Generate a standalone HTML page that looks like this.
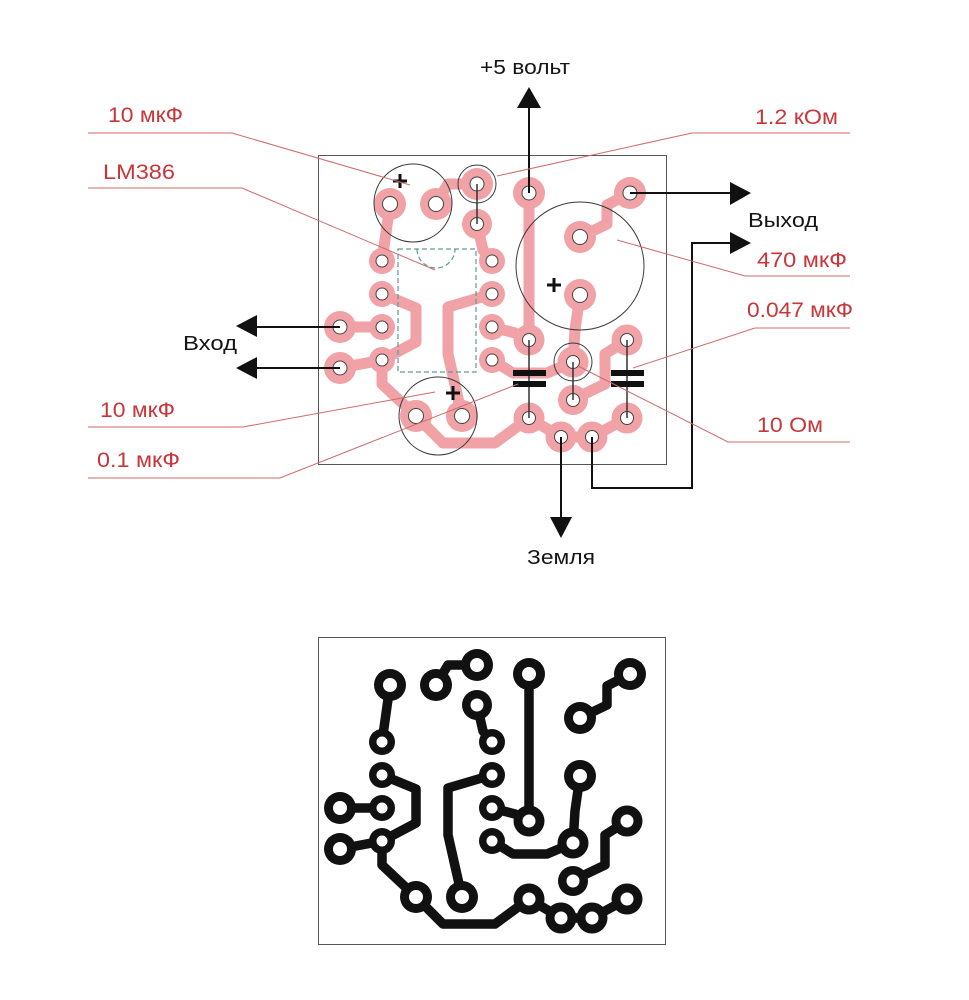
<!DOCTYPE html>
<html><head><meta charset="utf-8">
<style>
html,body{margin:0;padding:0;background:#fff;}
svg{display:block;}
text{font-family:"Liberation Sans","DejaVu Sans",sans-serif;}
</style></head>
<body>
<svg width="969" height="1000" viewBox="0 0 969 1000" xmlns="http://www.w3.org/2000/svg">
<defs>
  <g id="trk" fill="none" stroke-linejoin="round" stroke-linecap="round">
    <polyline points="390,204 382,261"/>
    <polyline points="436,204 448,184 470,184 477,184"/>
    <polyline points="477,224 483,250 492,261"/>
    <polyline points="529,193 529,340"/>
    <polyline points="630,193 607,205 607,224 580,237"/>
    <polyline points="340,327 382,327"/>
    <polyline points="340,368 382,360"/>
    <polyline points="382,294 416,308 416,342 382,360"/>
    <polyline points="382,360 382,384 416,416"/>
    <polyline points="416,416 443,443 495,443 529,418"/>
    <polyline points="492,294 448,307 448,354 462,416"/>
    <polyline points="492,327 515,333 529,340"/>
    <polyline points="492,360 513,373 547,373 573,362"/>
    <polyline points="580,295 575,330 573,362"/>
    <polyline points="627,340 605,354 605,384 580,396 573,400"/>
    <polyline points="529,418 561,437 592,437 627,418"/>
  </g>
  <g id="bigpads">
    <circle cx="390" cy="204" r="16"/>
    <circle cx="436" cy="204" r="16"/>
    <circle cx="477" cy="184" r="16"/>
    <circle cx="477" cy="224" r="15"/>
    <circle cx="529" cy="193" r="16"/>
    <circle cx="630" cy="193" r="16"/>
    <circle cx="580" cy="237" r="16"/>
    <circle cx="580" cy="295" r="16"/>
    <circle cx="340" cy="327" r="16"/>
    <circle cx="340" cy="368" r="16"/>
    <circle cx="416" cy="416" r="16"/>
    <circle cx="462" cy="416" r="16"/>
    <circle cx="529" cy="340" r="15.5"/>
    <circle cx="529" cy="418" r="15.5"/>
    <circle cx="573" cy="362" r="15.5"/>
    <circle cx="573" cy="400" r="15"/>
    <circle cx="627" cy="340" r="15.5"/>
    <circle cx="627" cy="418" r="15.5"/>
    <circle cx="561" cy="437" r="15.5"/>
    <circle cx="592" cy="437" r="15.5"/>
  </g>
  <g id="icpads">
    <circle cx="382" cy="261" r="13"/>
    <circle cx="382" cy="294" r="13"/>
    <circle cx="382" cy="327" r="13"/>
    <circle cx="382" cy="360" r="13"/>
    <circle cx="492" cy="261" r="13"/>
    <circle cx="492" cy="294" r="13"/>
    <circle cx="492" cy="327" r="13"/>
    <circle cx="492" cy="360" r="13"/>
  </g>
</defs>

<!-- ================= TOP DIAGRAM ================= -->
<rect x="318.5" y="155.5" width="348" height="309" fill="none" stroke="#555" stroke-width="1"/>

<!-- pink copper -->
<use href="#trk" stroke="#F0A2A6" stroke-width="11"/>
<use href="#bigpads" fill="#F0A2A6"/>
<use href="#icpads" fill="#F0A2A6"/>

<!-- holes -->
<g fill="#fff" stroke="#444" stroke-width="1">
  <circle cx="390" cy="204" r="7.5"/>
  <circle cx="436" cy="204" r="7.5"/>
  <circle cx="477" cy="184" r="7"/>
  <circle cx="477" cy="224" r="6.5"/>
  <circle cx="529" cy="193" r="7"/>
  <circle cx="630" cy="193" r="7"/>
  <circle cx="580" cy="237" r="7.5"/>
  <circle cx="580" cy="295" r="7.5"/>
  <circle cx="340" cy="327" r="7"/>
  <circle cx="340" cy="368" r="7"/>
  <circle cx="416" cy="416" r="7.5"/>
  <circle cx="462" cy="416" r="7.5"/>
  <circle cx="529" cy="340" r="6.5"/>
  <circle cx="529" cy="418" r="6.5"/>
  <circle cx="573" cy="362" r="6.5"/>
  <circle cx="573" cy="400" r="6.5"/>
  <circle cx="627" cy="340" r="6.5"/>
  <circle cx="627" cy="418" r="6.5"/>
  <circle cx="561" cy="437" r="6.5"/>
  <circle cx="592" cy="437" r="6.5"/>
  <circle cx="382" cy="261" r="6"/>
  <circle cx="382" cy="294" r="6"/>
  <circle cx="382" cy="327" r="6"/>
  <circle cx="382" cy="360" r="6"/>
  <circle cx="492" cy="261" r="6"/>
  <circle cx="492" cy="294" r="6"/>
  <circle cx="492" cy="327" r="6"/>
  <circle cx="492" cy="360" r="6"/>
</g>

<!-- IC outline -->
<g fill="none" stroke="#5E9A9A" stroke-width="1.2" stroke-dasharray="5,3">
  <rect x="398" y="249" width="78" height="123"/>
  <path d="M417,249 A19,19 0 0 0 455,249"/>
</g>

<!-- component outlines -->
<g fill="none" stroke="#3a3a3a" stroke-width="1">
  <circle cx="413" cy="203" r="39"/>
  <circle cx="477" cy="184" r="19"/>
  <circle cx="580" cy="266" r="64"/>
  <circle cx="438" cy="416" r="39"/>
  <circle cx="573" cy="362" r="19"/>
</g>
<g stroke="#333" stroke-width="1.5">
  <line x1="477" y1="184" x2="477" y2="224"/>
  <line x1="529" y1="340" x2="529" y2="418"/>
  <line x1="573" y1="362" x2="573" y2="400"/>
  <line x1="627" y1="340" x2="627" y2="418"/>
</g>
<!-- cap plates -->
<g fill="#111">
  <rect x="513" y="370" width="33" height="6"/>
  <rect x="513" y="381" width="33" height="6"/>
  <rect x="611" y="370" width="33" height="6"/>
  <rect x="611" y="381" width="33" height="6"/>
</g>
<!-- plus signs -->
<g stroke="#111" stroke-width="3">
  <line x1="393" y1="181" x2="407" y2="181"/><line x1="400" y1="174" x2="400" y2="188"/>
  <line x1="547" y1="285" x2="561" y2="285"/><line x1="554" y1="278" x2="554" y2="292"/>
  <line x1="446" y1="393" x2="460" y2="393"/><line x1="453" y1="386" x2="453" y2="400"/>
</g>

<!-- black arrows -->
<g stroke="#111" stroke-width="2" fill="none">
  <line x1="529" y1="193" x2="529" y2="107"/>
  <line x1="630" y1="193" x2="731" y2="193"/>
  <polyline points="592,437 592,488 692,488 692,243 731,243"/>
  <line x1="561" y1="437" x2="561" y2="518"/>
  <line x1="340" y1="327" x2="256" y2="327"/>
  <line x1="340" y1="368" x2="256" y2="368"/>
</g>
<g fill="#111">
  <polygon points="517,108 529,87 541,108"/>
  <polygon points="730,182 751,193 730,205"/>
  <polygon points="730,232 751,243 730,254"/>
  <polygon points="550,517 561,538 572,517"/>
  <polygon points="257,315 236,326 257,337"/>
  <polygon points="257,357 236,368 257,379"/>
</g>

<!-- red leader lines -->
<g fill="none" stroke="#D06A6A" stroke-width="1">
  <polyline points="88,133 232,133 410,185"/>
  <polyline points="88,188 242,188 435,270"/>
  <polyline points="88,427 243,427 435,392"/>
  <polyline points="88,478 280,478 518,384"/>
  <polyline points="850,133 692,133 497,176"/>
  <polyline points="850,276 745,276 617,240"/>
  <polyline points="850,328 755,328 633,368"/>
  <polyline points="850,442 728,442 578,366"/>
</g>

<!-- red labels -->
<g fill="#C8363A" font-size="21">
  <text x="108" y="122" textLength="75" lengthAdjust="spacingAndGlyphs">10 мкФ</text>
  <text x="103" y="179" textLength="72" lengthAdjust="spacingAndGlyphs">LM386</text>
  <text x="100" y="417" textLength="75" lengthAdjust="spacingAndGlyphs">10 мкФ</text>
  <text x="97" y="467" textLength="83" lengthAdjust="spacingAndGlyphs">0.1 мкФ</text>
  <text x="755" y="124" textLength="83" lengthAdjust="spacingAndGlyphs">1.2 кОм</text>
  <text x="757" y="267" textLength="90" lengthAdjust="spacingAndGlyphs">470 мкФ</text>
  <text x="747" y="317" textLength="106" lengthAdjust="spacingAndGlyphs">0.047 мкФ</text>
  <text x="757" y="432" textLength="66" lengthAdjust="spacingAndGlyphs">10 Ом</text>
</g>
<!-- black labels -->
<g fill="#151515" font-size="20">
  <text x="480" y="74" textLength="90" lengthAdjust="spacingAndGlyphs">+5 вольт</text>
  <text x="748" y="227" textLength="70" lengthAdjust="spacingAndGlyphs">Выход</text>
  <text x="183" y="350" textLength="54" lengthAdjust="spacingAndGlyphs">Вход</text>
  <text x="527" y="564" textLength="68" lengthAdjust="spacingAndGlyphs">Земля</text>
</g>

<!-- ================= BOTTOM PCB ================= -->
<rect x="318.5" y="637.5" width="347" height="307" fill="none" stroke="#555" stroke-width="1"/>
<g transform="translate(0,481)">
  <use href="#trk" stroke="#111" stroke-width="9.5"/>
  <use href="#bigpads" fill="#111"/>
  <use href="#icpads" fill="#111"/>
  <g fill="#fff">
    <circle cx="390" cy="204" r="7"/>
    <circle cx="436" cy="204" r="7"/>
    <circle cx="477" cy="184" r="7"/>
    <circle cx="477" cy="224" r="6.5"/>
    <circle cx="529" cy="193" r="7"/>
    <circle cx="630" cy="193" r="7"/>
    <circle cx="580" cy="237" r="7"/>
    <circle cx="580" cy="295" r="7"/>
    <circle cx="340" cy="327" r="7"/>
    <circle cx="340" cy="368" r="7"/>
    <circle cx="416" cy="416" r="7"/>
    <circle cx="462" cy="416" r="7"/>
    <circle cx="529" cy="340" r="6.5"/>
    <circle cx="529" cy="418" r="6.5"/>
    <circle cx="573" cy="362" r="6.5"/>
    <circle cx="573" cy="400" r="6.5"/>
    <circle cx="627" cy="340" r="6.5"/>
    <circle cx="627" cy="418" r="6.5"/>
    <circle cx="561" cy="437" r="6.5"/>
    <circle cx="592" cy="437" r="6.5"/>
    <circle cx="382" cy="261" r="5.5"/>
    <circle cx="382" cy="294" r="5.5"/>
    <circle cx="382" cy="327" r="5.5"/>
    <circle cx="382" cy="360" r="5.5"/>
    <circle cx="492" cy="261" r="5.5"/>
    <circle cx="492" cy="294" r="5.5"/>
    <circle cx="492" cy="327" r="5.5"/>
    <circle cx="492" cy="360" r="5.5"/>
  </g>
</g>
</svg>
</body></html>
